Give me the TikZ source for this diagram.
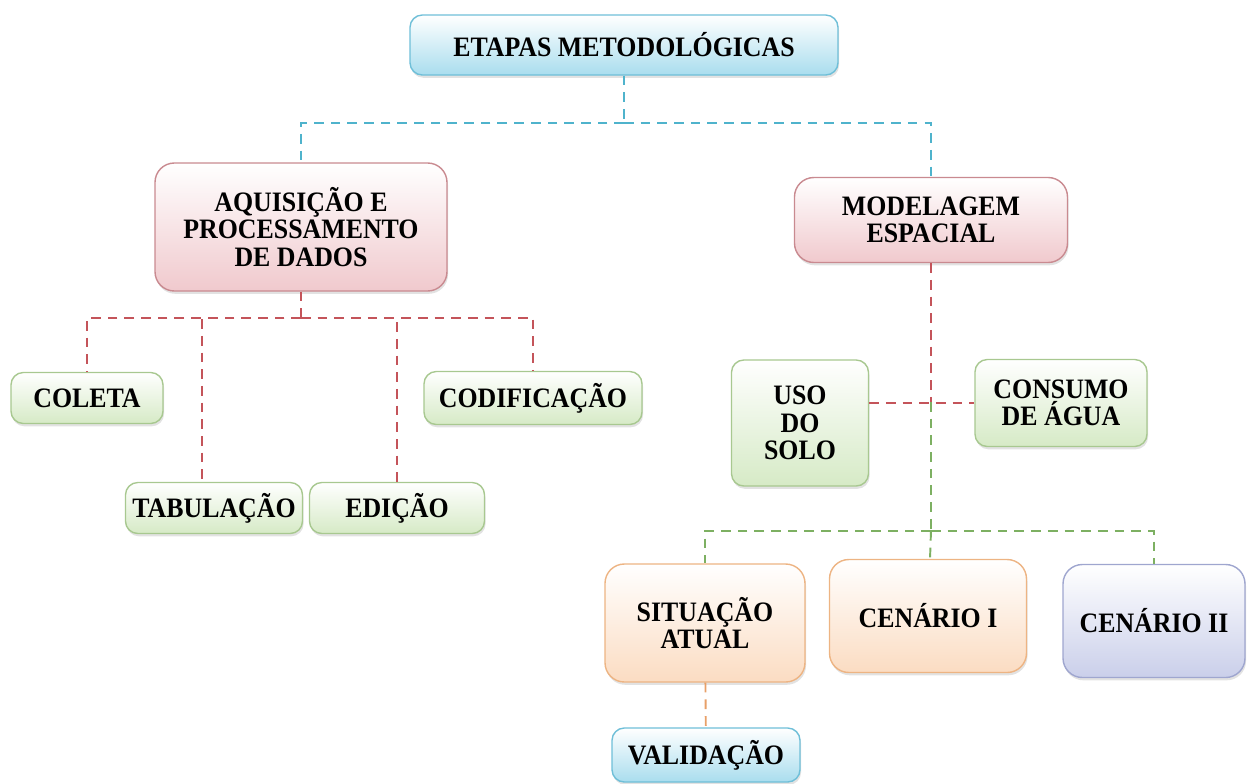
\documentclass[tikz,border=0pt]{standalone}
\usepackage{fontspec}
\setmainfont[FakeStretch=0.92]{Liberation Serif}
\usetikzlibrary{shadows}

\definecolor{bluedraw}{HTML}{6FBFD8}
\definecolor{bluefill}{HTML}{A9DDEE}
\definecolor{reddraw}{HTML}{C98A90}
\definecolor{redfill}{HTML}{F0C9CD}
\definecolor{greendraw}{HTML}{A8C890}
\definecolor{greenfill}{HTML}{D6EAC6}
\definecolor{orangedraw}{HTML}{EDB483}
\definecolor{orangefill}{HTML}{FBDCC2}
\definecolor{lilacdraw}{HTML}{9FA6CF}
\definecolor{lilacfill}{HTML}{CACFEA}
\definecolor{linkblue}{HTML}{4FB3CC}
\definecolor{linkred}{HTML}{C4545A}
\definecolor{linkgreen}{HTML}{7DB062}
\definecolor{linkorange}{HTML}{E8A068}

\begin{document}
\begin{tikzpicture}[
  font=\fontsize{16}{15.5}\selectfont\bfseries,
  box/.style={rectangle, rounded corners=7pt, draw, line width=0.8pt, align=center, drop shadow={shadow xshift=0.6pt, shadow yshift=-1.6pt, fill=gray!45}},
  bluebox/.style={box, draw=bluedraw, top color=white, bottom color=bluefill},
  redbox/.style={box, rounded corners=11pt, draw=reddraw, top color=white, bottom color=redfill},
  greenbox/.style={box, draw=greendraw, top color=white, bottom color=greenfill},
  orangebox/.style={box, rounded corners=11pt, draw=orangedraw, top color=white, bottom color=orangefill},
  lilacbox/.style={box, rounded corners=11pt, draw=lilacdraw, top color=white, bottom color=lilacfill},
  link/.style={line width=1.1pt, dash pattern=on 5.5pt off 4pt}
]
\useasboundingbox (0,0) rectangle (24.96,-15.66);

% Level 0 (root)
\node[bluebox, minimum width=8.56cm, minimum height=1.2cm] (etapas) at (12.48,-0.9) {ETAPAS METODOLÓGICAS};

% Level 1
\node[redbox, minimum width=5.84cm, minimum height=2.56cm] (aquis) at (6.02,-4.54) {AQUISIÇÃO E\\PROCESSAMENTO\\DE DADOS};
\node[redbox, minimum width=5.46cm, minimum height=1.7cm] (model) at (18.62,-4.4) {MODELAGEM\\ESPACIAL};

% Level 2 (from aquis)
\node[greenbox, minimum width=3.04cm, minimum height=1.02cm] (coleta) at (1.74,-7.96) {COLETA};
\node[greenbox, minimum width=4.36cm, minimum height=1.06cm] (codif) at (10.66,-7.96) {CODIFICAÇÃO};
\node[greenbox, minimum width=3.54cm, minimum height=1.02cm] (tabul) at (4.28,-10.16) {TABULAÇÃO};
\node[greenbox, minimum width=3.5cm, minimum height=1.02cm] (edicao) at (7.94,-10.16) {EDIÇÃO};

% Level 2 (from model)
\node[greenbox, minimum width=2.74cm, minimum height=2.52cm] (uso) at (16.0,-8.46) {USO\\DO\\SOLO};
\node[greenbox, minimum width=3.44cm, minimum height=1.74cm] (consumo) at (21.22,-8.06) {CONSUMO\\DE ÁGUA};

% Level 3 (scenarios)
\node[orangebox, minimum width=4.0cm, minimum height=2.36cm] (atual) at (14.1,-12.46) {SITUAÇÃO\\ATUAL};
\node[orangebox, minimum width=3.94cm, minimum height=2.26cm] (cen1) at (18.56,-12.32) {CENÁRIO I};
\node[lilacbox, minimum width=3.64cm, minimum height=2.26cm] (cen2) at (23.08,-12.42) {CENÁRIO II};

% Level 4
\node[bluebox, minimum width=3.76cm, minimum height=1.08cm] (valid) at (14.12,-15.1) {VALIDAÇÃO};

% Junctions
\coordinate (j0) at (12.48,-2.46);
\coordinate (j1) at (6.02,-6.36);
\coordinate (cross) at (18.62,-8.04);
\coordinate (j2) at (18.62,-10.62);

% Edges
\draw[link, linkblue] (etapas) -- (j0);
\draw[link, linkblue] (j0) -| (aquis);
\draw[link, linkblue] (j0) -| (model);

\draw[link, linkred] (aquis) -- (j1);
\draw[link, linkred] (j1) -| (coleta);
\draw[link, linkred] (j1) -| (codif);
\draw[link, linkred] (j1) -| ([xshift=-0.24cm]tabul.north);
\draw[link, linkred] (j1) -| (edicao);

\draw[link, linkred] (model) -- (cross);
\draw[link, linkred] (uso.east |- consumo.west) -- (consumo.west);

\draw[link, linkgreen] (cross) -- (j2);
\draw[link, linkgreen] (j2) -| (atual);
\draw[link, linkgreen] (j2) -- (cen1);
\draw[link, linkgreen] (j2) -| (cen2);

\draw[link, linkorange] (atual) -- (valid);

\end{tikzpicture}
\end{document}
